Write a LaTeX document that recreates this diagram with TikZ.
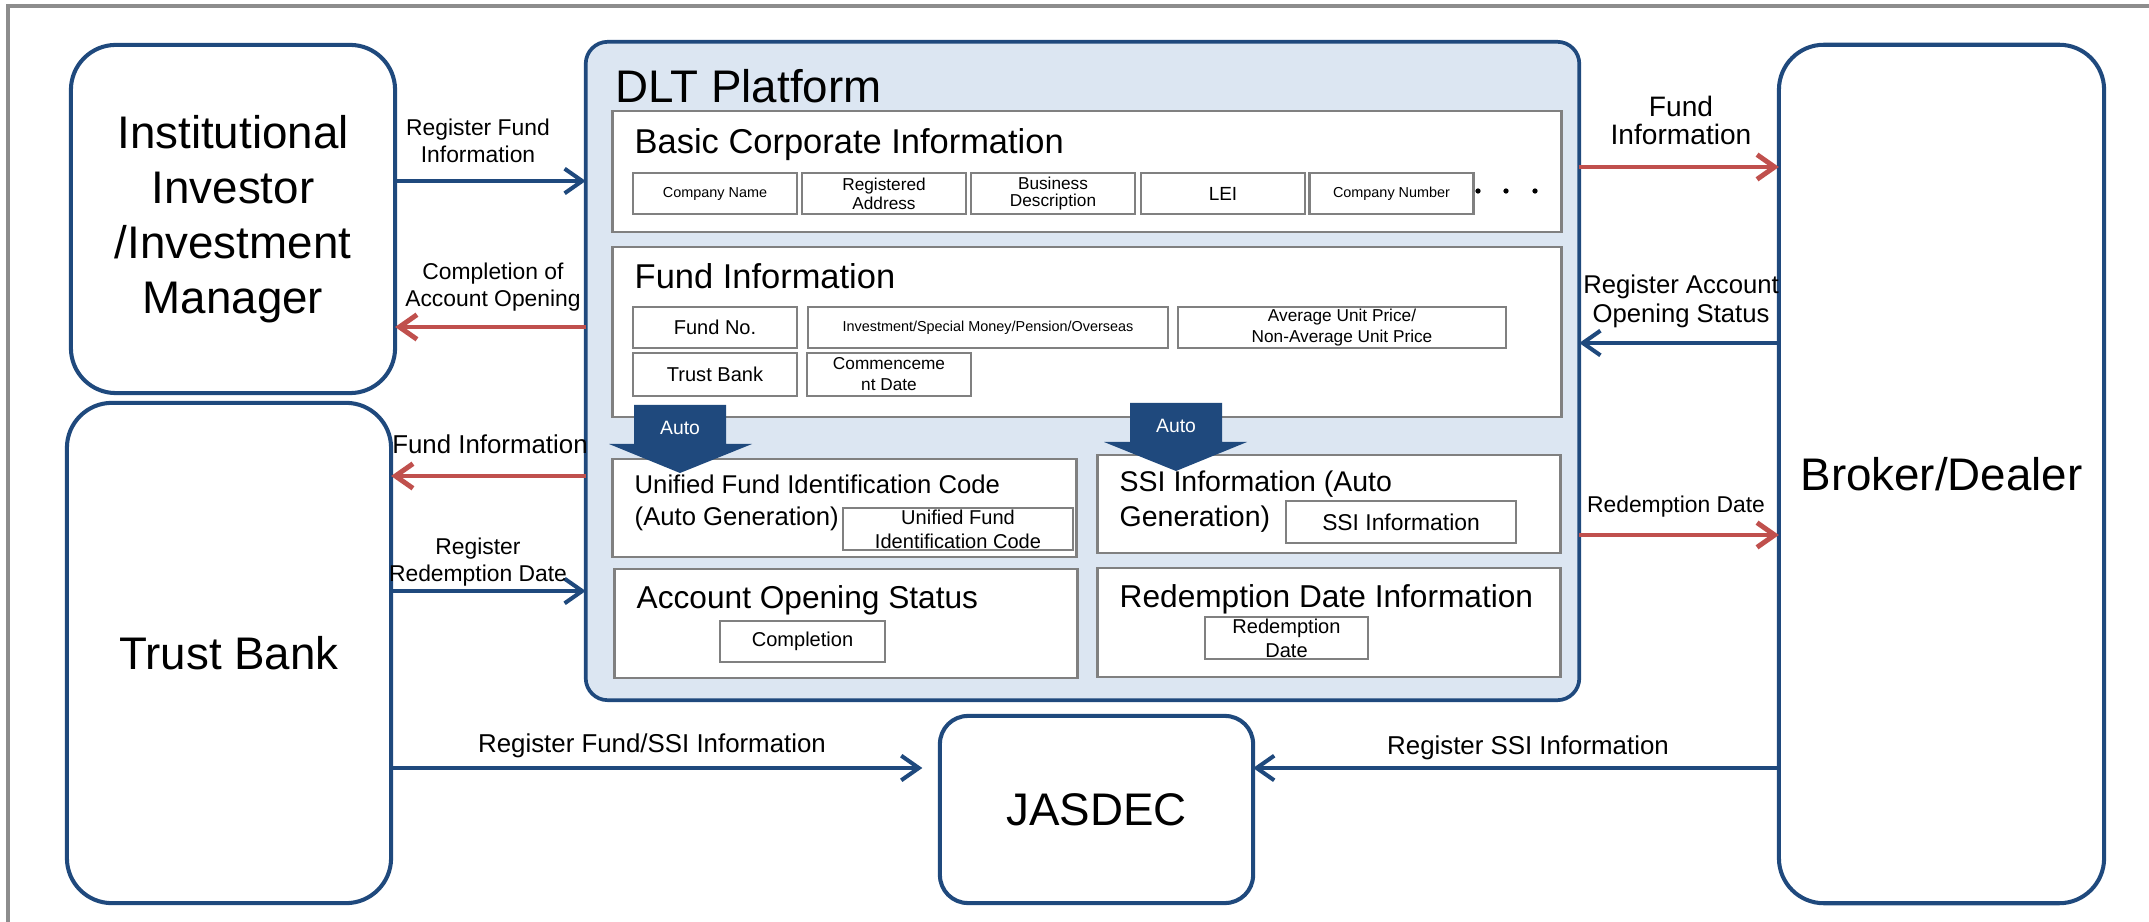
\documentclass[tikz,border=0pt]{standalone}
\usepackage{fontspec}
\setmainfont{Liberation Sans}
\usetikzlibrary{arrows.meta}

\definecolor{dltblue}{RGB}{31,73,125}
\definecolor{dltred}{RGB}{192,80,77}
\definecolor{dltfill}{RGB}{220,230,242}
\definecolor{boxgray}{RGB}{128,128,128}

\tikzset{
  party/.style={draw=dltblue, line width=1.15pt, rounded corners=0.45cm, fill=white,
    align=center, inner sep=0pt, outer sep=0pt, font=\fontsize{13}{15.6}\selectfont},
  section/.style={draw=boxgray, line width=0.8pt, fill=white, inner sep=0pt, outer sep=0pt},
  item/.style={draw=boxgray, line width=0.7pt, fill=white, align=center,
    inner sep=0pt, outer sep=0pt, minimum width=1.64cm, minimum height=0.41cm},
  title/.style={anchor=base west, inner sep=0pt, align=left},
  flowlabel/.style={anchor=base, inner sep=0pt, align=center},
  blueflow/.style={draw=dltblue, line width=1.15pt, -{Straight Barb[length=5pt,width=7pt]}},
  redflow/.style={draw=dltred, line width=1.4pt, -{Straight Barb[length=5pt,width=7pt]}},
}

\begin{document}
\begin{tikzpicture}[x=0.01cm, y=-0.01cm]
  \useasboundingbox (0,0) rectangle (2149,922);
  \draw[boxgray!90, line width=1.15pt] (8,922) -- (8,6) -- (2149,6);

  % the parties
  \node[party, minimum width=3.24cm, minimum height=3.48cm] (inst) at (233,219)
    {Institutional\\Investor\\/Investment\\Manager};
  \node[party, minimum width=3.24cm, minimum height=5cm] (trust) at (229,653) {Trust Bank};
  \node[party, minimum width=3.25cm, minimum height=8.58cm] (broker) at (1941.5,474) {Broker/Dealer};
  \node[party, minimum width=3.13cm, minimum height=1.87cm, rounded corners=0.28cm] (jasdec)
    at (1096.5,809.5) {JASDEC};

  % the platform
  \node[draw=dltblue, line width=1.05pt, fill=dltfill, rounded corners=0.22cm, inner sep=0pt,
    outer sep=0pt, minimum width=9.93cm, minimum height=6.58cm] (dlt) at (1082.5,371) {};
  \node[title, font=\fontsize{13}{15.6}\selectfont] (dlttitle) at (615,103) {DLT Platform};

  \node[section, minimum width=9.48cm, minimum height=1.21cm] (basic) at (1087,171.5) {};
  \node[title, font=\fontsize{9.8}{11}\selectfont] (basictitle) at (634,154) {Basic Corporate Information};
  \node[item, font=\fontsize{4.1}{5}\selectfont] (coname) at (715,193.5) {Company Name};
  \node[item, font=\fontsize{4.9}{5.4}\selectfont] (coaddr) at (884,193.5) {Registered\\Address};
  \node[item, font=\fontsize{4.9}{5}\selectfont] (codesc) at (1053,193.5) {Business\\Description};
  \node[item, font=\fontsize{5.4}{6}\selectfont] (colei) at (1223,193.5) {LEI};
  \node[item, font=\fontsize{4.1}{5}\selectfont] (conum) at (1391.5,193.5) {Company Number};
  \foreach \dx in {1478,1506,1535}
    \fill (\dx,191) circle [radius=0.75pt];

  \node[section, minimum width=9.48cm, minimum height=1.70cm] (fund) at (1087,332) {};
  \node[title, font=\fontsize{9.8}{11}\selectfont] (fundtitle) at (634,289) {Fund Information};
  \node[item, font=\fontsize{5.7}{6.5}\selectfont] (fundno) at (715,327.5) {Fund No.};
  \node[item, minimum width=3.60cm, font=\fontsize{4.1}{5}\selectfont] (fundtype) at (988,327.5)
    {Investment/Special Money/Pension/Overseas};
  \node[item, minimum width=3.28cm, font=\fontsize{4.9}{6}\selectfont] (fundprice) at (1342,327.5)
    {Average Unit Price/\\Non-Average Unit Price};
  \node[item, minimum height=0.43cm, font=\fontsize{5.7}{6.5}\selectfont] (fundbank) at (715,374.5) {Trust Bank};
  \node[item, minimum height=0.43cm, font=\fontsize{4.9}{6}\selectfont] (funddate) at (889,374.5)
    {Commenceme\\nt Date};

  \node[section, minimum width=4.63cm, minimum height=0.98cm] (ufic) at (844.5,508) {};
  \node[title, font=\fontsize{7.3}{9.1}\selectfont] (ufictitle) at (634,526)
    {Unified Fund Identification Code\\(Auto Generation)};
  \node[item, minimum width=2.30cm, minimum height=0.42cm, font=\fontsize{5.7}{6.8}\selectfont] (uficcode)
    at (958,529) {Unified Fund\\Identification Code};

  \node[section, minimum width=4.62cm, minimum height=0.98cm] (ssi) at (1329,504) {};
  \node[title, font=\fontsize{8.1}{10}\selectfont] (ssititle) at (1119,527)
    {SSI Information (Auto\\Generation)};
  \node[item, minimum width=2.30cm, minimum height=0.42cm, font=\fontsize{6.5}{7.5}\selectfont] (ssiinfo)
    at (1401,522) {SSI Information};

  \node[section, minimum width=4.62cm, minimum height=1.09cm] (acct) at (846,623.5) {};
  \node[title, font=\fontsize{9}{10}\selectfont] (accttitle) at (636,608) {Account Opening Status};
  \node[item, minimum width=1.65cm, font=\fontsize{5.7}{6.5}\selectfont] (acctdone) at (802.5,641.5) {Completion};

  \node[section, minimum width=4.62cm, minimum height=1.09cm] (redm) at (1329,622.5) {};
  \node[title, font=\fontsize{9}{10}\selectfont] (redmtitle) at (1119,607) {Redemption Date Information};
  \node[item, minimum width=1.63cm, minimum height=0.42cm, font=\fontsize{5.7}{6.8}\selectfont] (redmdate)
    at (1286.5,638) {Redemption\\Date};

  % auto generation
  \fill[dltblue] (634,405) -- (726,405) -- (726,444) -- (752,444) -- (680,473) -- (609,444) -- (634,444) -- cycle;
  \node[text=white, font=\fontsize{5.5}{6}\selectfont] (autoa) at (680,428) {Auto};
  \fill[dltblue] (1130,403) -- (1222,403) -- (1222,442) -- (1247,442) -- (1176,471) -- (1104,442) -- (1130,442) -- cycle;
  \node[text=white, font=\fontsize{5.5}{6}\selectfont] (autob) at (1176,426) {Auto};

  % flows on the left
  \draw[blueflow] (inst.east |- 0,181) -- (dlt.west |- 0,181);
  \node[flowlabel, font=\fontsize{6.5}{7.7}\selectfont] (lregfund) at (478,163) {Register Fund\\Information};
  \draw[redflow] (dlt.west |- 0,327) -- (inst.east |- 0,327);
  \node[flowlabel, font=\fontsize{6.5}{7.7}\selectfont] (lcompl) at (493,307) {Completion of\\Account Opening};
  \draw[redflow] (dlt.west |- 0,476) -- (trust.east |- 0,476);
  \node[flowlabel, font=\fontsize{7.35}{8.5}\selectfont] (lfundtb) at (490,454) {Fund Information};
  \draw[blueflow] (trust.east |- 0,591) -- (dlt.west |- 0,591);
  \node[flowlabel, font=\fontsize{6.5}{7.7}\selectfont] (lregred) at (478,582) {Register\\Redemption Date};
  \draw[blueflow, shorten >=5pt] (trust.east |- 0,768) -- (jasdec.west |- 0,768);
  \node[flowlabel, font=\fontsize{7.35}{8.5}\selectfont] (lregssi) at (652,752) {Register Fund/SSI Information};

  % flows on the right
  \draw[redflow] (dlt.east |- 0,167) -- (broker.west |- 0,167);
  \node[flowlabel, font=\fontsize{8}{8}\selectfont] (lfundbd) at (1681,145) {Fund\\Information};
  \draw[blueflow] (broker.west |- 0,343) -- (dlt.east |- 0,343);
  \node[flowlabel, font=\fontsize{7.3}{8.5}\selectfont] (lacct) at (1681,323) {Register Account\\Opening Status};
  \draw[redflow] (dlt.east |- 0,535) -- (broker.west |- 0,535);
  \node[flowlabel, font=\fontsize{6.5}{7.7}\selectfont] (lredm) at (1676,513) {Redemption Date};
  \draw[blueflow] (broker.west |- 0,768) -- (jasdec.east |- 0,768);
  \node[flowlabel, font=\fontsize{7.35}{8.5}\selectfont] (lssibd) at (1528,754) {Register SSI Information};
\end{tikzpicture}
\end{document}
